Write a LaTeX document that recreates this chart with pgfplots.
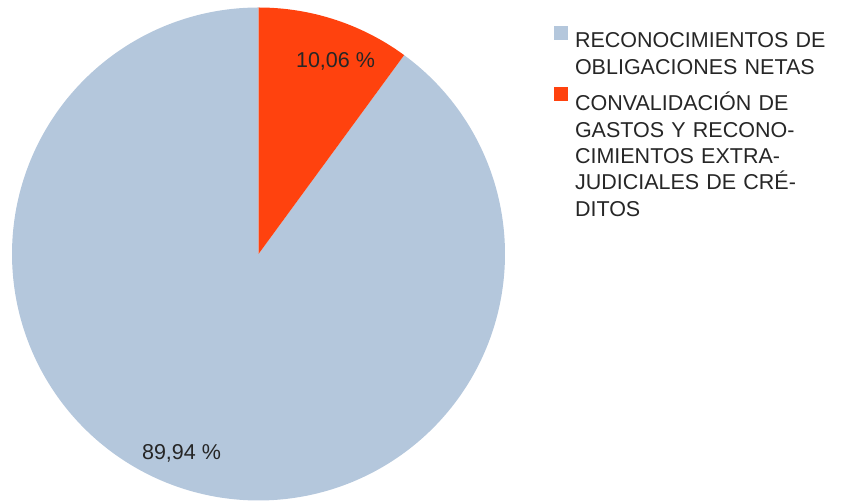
\documentclass[border=0pt]{standalone}
\usepackage{pgfplots}
\usepackage{pgfplotstable}
\pgfplotsset{compat=1.18}
\usepackage{fontspec}
\setmainfont{Liberation Sans}
\definecolor{pieblue}{HTML}{B4C7DC}
\definecolor{pieorange}{HTML}{FF420E}
\pgfplotstableread{
label value
A 89.94
B 10.06
}\piedata
\pgfplotstablegetelem{1}{value}\of\piedata
\let\vB\pgfplotsretval
\pgfmathsetmacro{\splitang}{90-3.6*\vB}
\pgfmathsetmacro{\blueend}{90-360}
\def\cx{258.5}
\def\cy{248}
\def\rr{246.5}
\begin{document}
\begin{tikzpicture}
\path[use as bounding box] (0,0) rectangle (848pt,502pt);
\begin{axis}[
  at={(0pt,0pt)}, anchor=south west,
  scale only axis, width=848pt, height=502pt,
  xmin=0, xmax=848, ymin=0, ymax=502,
  hide axis, clip=false,
  legend style={draw=none, fill=none, at={(axis cs:554,476)}, anchor=north west,
    font=\fontsize{21.5}{26.3}\selectfont, inner sep=0pt, outer sep=0pt,
    row sep=38pt,
    nodes={align=left, text width=262pt, inner sep=0pt, text=black!85}},
  legend cell align=left,
]
\addplot[fill=pieblue, draw=none, domain=\blueend:\splitang, samples=300,
  legend image code/.code={\fill[pieblue] (0pt,1pt) rectangle (14pt,15pt);}]
  ({\cx+\rr*cos(x)}, {\cy+\rr*sin(x)}) -- (\cx,\cy) -- cycle;
\addlegendentry{\hspace*{7pt}RECONOCIMIENTOS DE\\\hspace*{7pt}OBLIGACIONES NETAS}
\addplot[fill=pieorange, draw=none, domain=\splitang:90, samples=60,
  legend image code/.code={\fill[pieorange] (0pt,1pt) rectangle (14pt,15pt);}]
  ({\cx+\rr*cos(x)}, {\cy+\rr*sin(x)}) -- (\cx,\cy) -- cycle;
\addlegendentry{\hspace*{7pt}CONVALIDACIÓN DE\\\hspace*{7pt}GASTOS Y RECONO-\\\hspace*{7pt}CIMIENTOS EXTRA-\\\hspace*{7pt}JUDICIALES DE CRÉ-\\\hspace*{7pt}DITOS}
\node[anchor=base, font=\fontsize{21.5}{26}\selectfont, text=black!85, inner sep=0pt] at (axis cs:335.5,434) {10,06 \%};
\node[anchor=base, font=\fontsize{21.5}{26}\selectfont, text=black!85, inner sep=0pt] at (axis cs:181.5,42) {89,94 \%};
\end{axis}
\end{tikzpicture}
\end{document}
